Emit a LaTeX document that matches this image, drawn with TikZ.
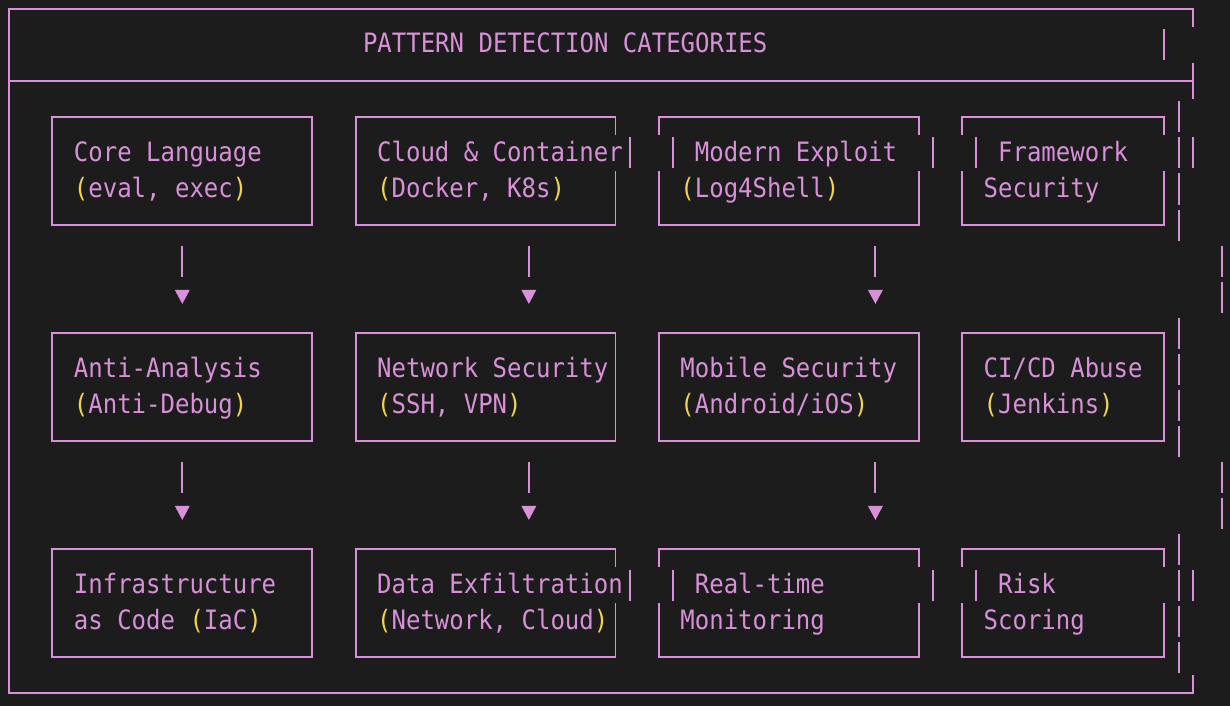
\documentclass[tikz,border=0pt]{standalone}
\usepackage{fontspec}
\usetikzlibrary{calc,arrows.meta}
\newfontfamily\termfont[FakeStretch=0.9,HyphenChar=None]{DejaVu Sans Mono}
\newcommand{\termsize}{\fontsize{22.75pt}{30.73pt}\selectfont}
\newcommand{\tstrut}{\spaceskip=12.33pt\xspaceskip=12.33pt\relax\rule[-8.1pt]{0pt}{30.73pt}}
\definecolor{termbg}{RGB}{28,28,28}
\definecolor{lilac}{RGB}{216,144,216}
\definecolor{parenyel}{RGB}{242,212,76}
\newcommand{\yop}{\textcolor{parenyel}{(}}
\newcommand{\ycl}{\textcolor{parenyel}{)}}
\newcommand{\cw}{14.44}
\newcommand{\rh}{36}
\begin{document}
\begin{tikzpicture}[x=0.03cm,y=-0.03cm,
	boxline/.style={draw=lilac,line width=1.7pt},
	catbox/.style={boxline,outer sep=0pt,inner xsep=0.65cm,inner ysep=0pt,text width=6.498cm,minimum height=3.24cm,align=flush left,text=lilac,font=\termfont\termsize,execute at begin node=\tstrut,execute at end node=\tstrut},
	narrow/.style={text width=4.765cm},
	ragged/.style={draw=none},
	flow/.style={boxline,dash pattern=on 0.93cm off 5cm,shorten <=0.63cm,shorten >=0.87cm,-{Triangle[width=0.43cm,length=0.42cm]}}]
	\fill[termbg] (0,0) rectangle (1230,706);
	% outer frame and title bar
	\draw[boxline] ({9+\cw*82},27) -- ({9+\cw*82},9) -- (9,9) -- (9,693) -- ({9+\cw*82},693) -- ({9+\cw*82},675);
	\draw[boxline] (9,81) -- ({9+\cw*82},81) ({9+\cw*82},63) -- ({9+\cw*82},99);
	\node[anchor=base west,inner sep=0pt,text=lilac,font=\termfont\termsize,execute at begin node=\tstrut] (title) at (362.8,52.7) {PATTERN DETECTION CATEGORIES};
	% row 1
	\node[catbox] (core) at ({9+\cw*12},{9+\rh*4.5}) {Core~Language\\\yop eval,~exec\ycl};
	\node[catbox,ragged] (cloud) at ({9+\cw*33},{9+\rh*4.5}) {Cloud~\&~Container\\\yop Docker,~K8s\ycl};
	\node[catbox,ragged] (modern) at ({9+\cw*54},{9+\rh*4.5}) {\phantom{M}Modern~Exploit\\\yop Log4Shell\ycl};
	\node[catbox,narrow,ragged] (framework) at ({9+\cw*73},{9+\rh*4.5}) {\phantom{M}Framework\\Security};
	% row 2
	\node[catbox] (anti) at ({9+\cw*12},{9+\rh*10.5}) {Anti-Analysis\\\yop Anti-Debug\ycl};
	\node[catbox] (netsec) at ({9+\cw*33},{9+\rh*10.5}) {Network~Security\\\yop SSH,~VPN\ycl};
	\node[catbox] (mobile) at ({9+\cw*54},{9+\rh*10.5}) {Mobile~Security\\\yop Android/iOS\ycl};
	\node[catbox,narrow] (cicd) at ({9+\cw*73},{9+\rh*10.5}) {CI/CD~Abuse\\\yop Jenkins\ycl};
	% row 3
	\node[catbox] (infra) at ({9+\cw*12},{9+\rh*16.5}) {Infrastructure\\as~Code~\yop IaC\ycl};
	\node[catbox,ragged] (dataex) at ({9+\cw*33},{9+\rh*16.5}) {Data~Exfiltration\\\yop Network,~Cloud\ycl};
	\node[catbox,ragged] (realtime) at ({9+\cw*54},{9+\rh*16.5}) {\phantom{M}Real-time\\Monitoring};
	\node[catbox,narrow,ragged] (risk) at ({9+\cw*73},{9+\rh*16.5}) {\phantom{M}Risk\\Scoring};
	% boxes whose first line slipped one column
	\foreach \n in {cloud,dataex}{
		\draw[boxline] ($(\n.north east)+(0,18)$) -- (\n.north east) -- (\n.north west) -- (\n.south west) -- (\n.south east) -- ($(\n.north east)+(0,54)$);
		\draw[boxline] ($(\n.north east)+(\cw,20.5)$) -- ++(0,31);
	}
	\foreach \n in {modern,realtime,framework,risk}{
		\draw[boxline] ($(\n.north west)+(0,54)$) -- (\n.south west) -- (\n.south east) -- ($(\n.north east)+(0,54)$)
			($(\n.north west)+(0,18)$) -- (\n.north west) -- (\n.north east) -- ($(\n.north east)+(0,18)$);
		\draw[boxline] ($(\n.north west)+(\cw,20.5)$) -- ++(0,31);
	}
	\foreach \n in {modern,realtime}
		\draw[boxline] ($(\n.north east)+(\cw,20.5)$) -- ++(0,31);
	\foreach \c/\r in {80/1,81/3,81/4,82/4,81/5,81/6,84/7,84/8,81/9,81/10,81/11,81/12,84/13,84/14,81/15,81/16,82/16,81/17,81/18}
		\draw[boxline] ({9+\cw*\c},{9+\rh*\r-15.5}) -- ++(0,31);
	% arrows
	\foreach \a/\b/\s in {core/anti/0,anti/infra/0,cloud/netsec/3,netsec/dataex/3,modern/mobile/6,mobile/realtime/6}
		\draw[flow] ($(\a.south)+(\s*\cw,0)$) -- ($(\b.north)+(\s*\cw,0)$);
\end{tikzpicture}
\end{document}
